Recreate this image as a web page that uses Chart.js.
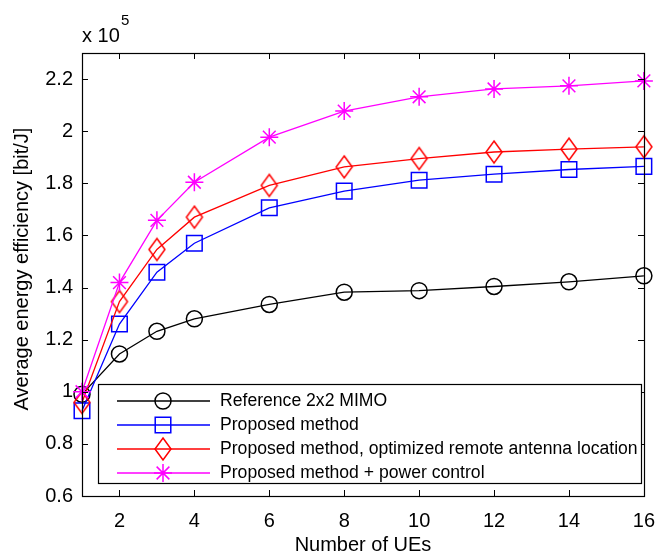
<!DOCTYPE html>
<html>
<head>
<meta charset="utf-8">
<script src="https://cdn.jsdelivr.net/npm/chart.js@4/dist/chart.umd.min.js"></script>
<style>
  html, body { margin:0; padding:0; background:#fff; }
  #wrap { width:668px; height:556px; }
</style>
</head>
<body>
<div id="wrap"><canvas id="chart" width="668" height="556"></canvas></div>
<script>
// number of UEs and energy efficiency (x 10^5 bit/J)
const ues = [1, 2, 3, 4, 6, 8, 10, 12, 14, 16];
const refMimo   = [0.99, 1.145, 1.232, 1.280, 1.335, 1.382, 1.388, 1.404, 1.422, 1.445];
const proposed  = [0.927, 1.260, 1.459, 1.570, 1.706, 1.770, 1.812, 1.835, 1.853, 1.865];
const optimized = [0.959, 1.346, 1.546, 1.670, 1.792, 1.863, 1.895, 1.920, 1.931, 1.940];
const powerCtl  = [1.00, 1.419, 1.658, 1.804, 1.977, 2.077, 2.132, 2.162, 2.174, 2.193];
const xTicks = [2, 4, 6, 8, 10, 12, 14, 16];
const yTicks = [0.6, 0.8, 1, 1.2, 1.4, 1.6, 1.8, 2, 2.2];
const labels = [
  'Reference 2x2 MIMO',
  'Proposed method',
  'Proposed method, optimized remote antenna location',
  'Proposed method + power control'
];

const FONT = '"Liberation Sans", Arial, sans-serif';

// MATLAB style diamond (a bit taller than wide)
function diamondCanvas(color){
  const c = document.createElement('canvas');
  c.width = 20; c.height = 26;
  const g = c.getContext('2d');
  g.strokeStyle = color; g.lineWidth = 1.5;
  g.beginPath();
  g.moveTo(10, 2); g.lineTo(18, 13); g.lineTo(10, 24); g.lineTo(2, 13); g.closePath();
  g.stroke();
  return c;
}

const series = [
  { data: refMimo,   color: '#000000', style: 'circle', radius: 8,  order: 4 },
  { data: proposed,  color: '#0000ff', style: 'rect',   radius: 11, order: 3 },
  { data: optimized, color: '#ff0000', style: diamondCanvas('#ff0000'), radius: 10, order: 2 },
  { data: powerCtl,  color: '#ff00ff', style: 'star',   radius: 9,  order: 1 }
];

const datasets = series.map((s, i) => ({
  label: labels[i],
  data: ues.map((u, k) => ({ x: u, y: s.data[k] })),
  borderColor: s.color,
  borderWidth: 1.3,
  pointStyle: s.style,
  pointRadius: s.radius,
  pointBorderColor: s.color,
  pointBorderWidth: 1.5,
  pointBackgroundColor: 'rgba(0,0,0,0)',
  tension: 0,
  clip: false,
  order: s.order
}));

// box, inward ticks, titles, exponent and legend
const matlabAxes = {
  id: 'matlabAxes',
  afterDraw(chart){
    const ctx = chart.ctx;
    const xs = chart.scales.x, ys = chart.scales.y;
    const L = Math.round(xs.getPixelForValue(1)), R = Math.round(xs.getPixelForValue(16));
    const T = Math.round(ys.getPixelForValue(2.3)), B = Math.round(ys.getPixelForValue(0.6));
    const tl = 6;
    ctx.save();
    ctx.strokeStyle = '#000';
    ctx.lineWidth = 1;
    ctx.beginPath();
    xTicks.forEach(v => {
      const px = Math.round(xs.getPixelForValue(v)) + 0.5;
      ctx.moveTo(px, B); ctx.lineTo(px, B - tl);
      ctx.moveTo(px, T); ctx.lineTo(px, T + tl);
    });
    yTicks.forEach(v => {
      const py = Math.round(ys.getPixelForValue(v)) + 0.5;
      ctx.moveTo(L, py); ctx.lineTo(L + tl, py);
      ctx.moveTo(R, py); ctx.lineTo(R - tl, py);
    });
    ctx.stroke();
    ctx.lineWidth = 1.2;
    ctx.strokeRect(L + 0.5, T + 0.5, R - L, B - T);

    // axis titles
    ctx.fillStyle = '#000';
    ctx.font = '20px ' + FONT;
    ctx.textAlign = 'center';
    ctx.textBaseline = 'middle';
    ctx.fillText('Number of UEs', (L + R) / 2, 545);
    ctx.save();
    ctx.translate(22, 269);
    ctx.rotate(-Math.PI / 2);
    ctx.fillText('Average energy efficiency [bit/J]', 0, 0);
    ctx.restore();

    // exponent
    ctx.textAlign = 'left';
    ctx.textBaseline = 'alphabetic';
    ctx.fillText('x 10', 82, 42);
    ctx.font = '15px ' + FONT;
    ctx.fillText('5', 121, 25);

    // legend
    const box = { l: 98, t: 384, r: 641, b: 483 };
    ctx.fillStyle = '#fff';
    ctx.fillRect(box.l, box.t, box.r - box.l, box.b - box.t);
    ctx.lineWidth = 1.2;
    ctx.strokeStyle = '#000';
    ctx.strokeRect(box.l + 0.5, box.t + 0.5, box.r - box.l, box.b - box.t);
    ctx.font = '17.6px ' + FONT;
    ctx.textBaseline = 'middle';
    chart.data.datasets.forEach((ds, i) => {
      const y = 401 + i * 24;
      ctx.strokeStyle = ds.borderColor;
      ctx.lineWidth = 1.3;
      ctx.beginPath();
      ctx.moveTo(117, y); ctx.lineTo(210, y);
      ctx.stroke();
      ctx.lineWidth = ds.pointBorderWidth;
      ctx.strokeStyle = ds.pointBorderColor;
      ctx.fillStyle = 'rgba(0,0,0,0)';
      Chart.helpers.drawPoint(ctx, {
        pointStyle: ds.pointStyle, radius: ds.pointRadius, borderWidth: ds.pointBorderWidth, rotation: 0
      }, 163, y);
      ctx.fillStyle = '#000';
      ctx.fillText(ds.label, 220, y);
    });
    ctx.restore();
  }
};

new Chart(document.getElementById('chart'), {
  type: 'line',
  data: { datasets },
  options: {
    responsive: false,
    animation: false,
    layout: { autoPadding: false, padding: { top: 53, right: 15, left: 0, bottom: 0 } },
    plugins: { legend: { display: false }, tooltip: { enabled: false } },
    scales: {
      x: {
        type: 'linear', min: 1, max: 16,
        grid: { display: false, drawTicks: false },
        border: { display: false },
        afterBuildTicks: s => { s.ticks = xTicks.map(v => ({ value: v })); },
        afterFit: s => { s.height = 60; },
        ticks: { color: '#000', font: { family: FONT, size: 20 }, padding: 13, maxRotation: 0 }
      },
      y: {
        min: 0.6, max: 2.3,
        grid: { display: false, drawTicks: false },
        border: { display: false },
        afterBuildTicks: s => { s.ticks = yTicks.map(v => ({ value: v })); },
        afterFit: s => { s.width = 82; },
        ticks: {
          color: '#000', font: { family: FONT, size: 20 }, padding: 9,
          callback: v => String(Number(v.toFixed(1)))
        }
      }
    }
  },
  plugins: [matlabAxes]
});
</script>
</body>
</html>
